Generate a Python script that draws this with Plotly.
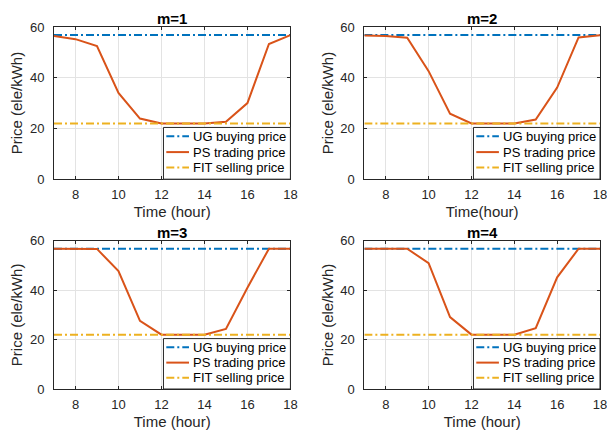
import plotly.graph_objects as go

hours = [7, 8, 9, 10, 11, 12, 13, 14, 15, 16, 17, 18]
ug_buying = [56.8, 56.8, 56.8, 56.8, 56.8, 56.8, 56.8, 56.8, 56.8, 56.8, 56.8, 56.8]
fit_selling = [22.0, 22.0, 22.0, 22.0, 22.0, 22.0, 22.0, 22.0, 22.0, 22.0, 22.0, 22.0]
ps_m1 = [56.5, 55.2, 52.5, 34.0, 23.9, 22.0, 22.0, 22.0, 22.6, 30.0, 53.3, 56.8]
ps_m2 = [56.6, 56.5, 55.8, 42.6, 25.8, 22.0, 22.0, 22.0, 23.5, 36.1, 55.9, 56.8]
ps_m3 = [56.8, 56.8, 56.7, 47.7, 27.6, 22.0, 22.0, 22.0, 24.3, 41.0, 56.8, 56.8]
ps_m4 = [56.8, 56.8, 56.8, 50.9, 29.1, 22.0, 22.0, 22.0, 24.6, 45.2, 56.8, 56.8]
panel_titles = ["m=1", "m=2", "m=3", "m=4"]
x_titles = ["Time (hour)", "Time(hour)", "Time (hour)", "Time (hour)"]
y_title = "Price (ele/kWh)"
series_names = ["UG buying price", "PS trading price", "FIT selling price"]
x_ticks = [8, 10, 12, 14, 16, 18]
y_ticks = [0, 20, 40, 60]

BLUE = "#0072BD"
ORANGE = "#D95319"
YELLOW = "#EDB120"
AXC = "#262626"
FONT = "Liberation Sans, Arial, Helvetica, sans-serif"
DASH_DOT = "8px,3px,2px,3px"

ps_all = [ps_m1, ps_m2, ps_m3, ps_m4]
series_colors = [BLUE, ORANGE, YELLOW]
series_dash = [DASH_DOT, "solid", DASH_DOT]

xdoms = [[0.0, 0.433], [0.5684, 1.0], [0.0, 0.433], [0.5684, 1.0]]
ydoms = [[0.5796, 1.0], [0.5796, 1.0], [0.0, 0.4095], [0.0, 0.4095]]

fig = go.Figure()

for i in range(4):
    k = "" if i == 0 else str(i + 1)
    xa, ya = "x" + k, "y" + k
    series = [ug_buying, ps_all[i], fit_selling]
    for s in range(3):
        fig.add_trace(go.Scatter(
            x=hours, y=series[s], mode="lines", name=series_names[s],
            line=dict(color=series_colors[s], width=2, dash=series_dash[s]),
            xaxis=xa, yaxis=ya, showlegend=False))

layout = dict(
    width=607, height=427,
    margin=dict(l=36, r=8, t=19, b=40),
    paper_bgcolor="white", plot_bgcolor="white",
    font=dict(family=FONT, size=13, color=AXC),
    showlegend=False,
)
annotations = []
shapes = []
# legend box geometry (axis-domain fractions)
box_x0, box_x1, box_y0, box_y1 = 0.463, 1.0, 0.0, 0.34
samp_x0, samp_x1, text_x = 0.475, 0.571, 0.578
row_y = [0.282, 0.178, 0.076]

for i in range(4):
    k = "" if i == 0 else str(i + 1)
    layout["xaxis" + k] = dict(
        domain=xdoms[i], anchor="y" + k, range=[7, 18], tickvals=x_ticks,
        showline=True, linecolor=AXC, linewidth=1, mirror="ticks",
        ticks="inside", ticklen=3, tickcolor=AXC,
        showgrid=True, gridcolor="#e3e3e3", zeroline=False,
        tickfont=dict(size=13, color=AXC), ticklabelstandoff=3,
        title=dict(text=x_titles[i], font=dict(size=15, color=AXC), standoff=5),
    )
    layout["yaxis" + k] = dict(
        domain=ydoms[i], anchor="x" + k, range=[0, 60], tickvals=y_ticks,
        showline=True, linecolor=AXC, linewidth=1, mirror="ticks",
        ticks="inside", ticklen=3, tickcolor=AXC,
        showgrid=True, gridcolor="#e3e3e3", zeroline=False,
        tickfont=dict(size=13, color=AXC), ticklabelstandoff=6,
        title=dict(text=y_title, font=dict(size=15, color=AXC), standoff=3),
    )
    xr, yr = "x" + k + " domain", "y" + k + " domain"
    # legend box
    shapes.append(dict(type="rect", xref=xr, yref=yr, x0=box_x0, x1=box_x1,
                       y0=box_y0, y1=box_y1, fillcolor="white",
                       line=dict(color=AXC, width=1), layer="above"))
    for s in range(3):
        shapes.append(dict(type="line", xref=xr, yref=yr, x0=samp_x0, x1=samp_x1,
                           y0=row_y[s], y1=row_y[s], layer="above",
                           line=dict(color=series_colors[s], width=2, dash=series_dash[s])))
        annotations.append(dict(text=series_names[s], xref=xr, yref=yr, x=text_x, y=row_y[s],
                                xanchor="left", yanchor="middle", showarrow=False,
                                font=dict(size=13, color="black")))
    annotations.append(dict(
        text="<b>" + panel_titles[i] + "</b>", x=(xdoms[i][0] + xdoms[i][1]) / 2,
        y=ydoms[i][1], xref="paper", yref="paper", xanchor="center", yanchor="bottom",
        yshift=-2, showarrow=False, font=dict(size=15, color="black"),
    ))
layout["annotations"] = annotations
layout["shapes"] = shapes
fig.update_layout(**layout)

fig.write_html("out.html")
